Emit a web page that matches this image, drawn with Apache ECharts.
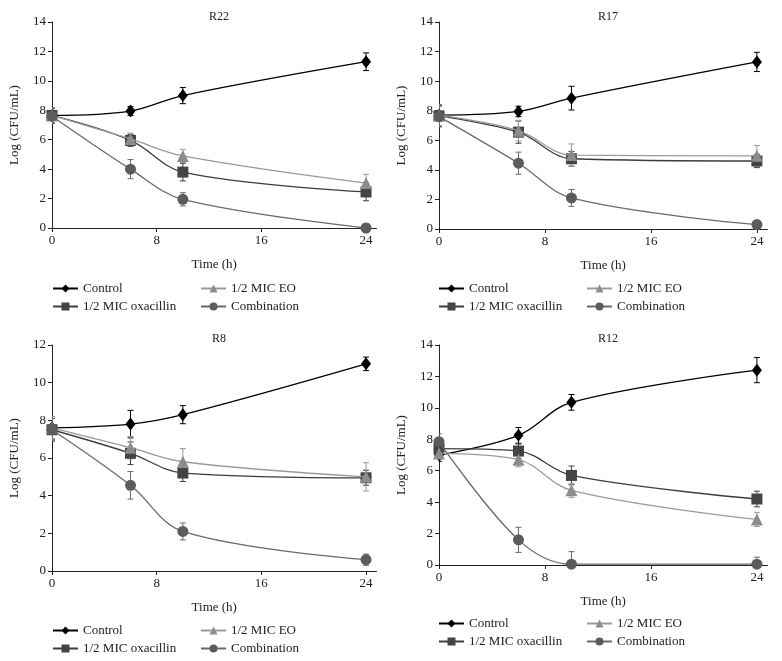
<!DOCTYPE html>
<html>
<head>
<meta charset="utf-8">
<script src="https://cdn.jsdelivr.net/npm/echarts@6/dist/echarts.min.js"></script>
<style>html,body{margin:0;padding:0;background:#fff}#c{width:782px;height:661px}</style>
</head>
<body>
<div id="c"></div>
<script>
// ---- data ----
const times = [0, 6, 10, 24];
const seriesNames = ['Control', '1/2 MIC oxacillin', '1/2 MIC EO', 'Combination'];
const panelTitles = ['R22', 'R17', 'R8', 'R12'];
const yMaxes = [14, 14, 12, 14];
const xTicks = [0, 8, 16, 24];

const r22Control = [7.65, 7.95, 9.0, 11.3];
const r22ControlErr = [0.5, 0.3, 0.55, 0.6];
const r22Oxa = [7.65, 5.95, 3.8, 2.45];
const r22OxaErr = [0.5, 0.4, 0.6, 0.6];
const r22EO = [7.65, 6.05, 4.9, 3.05];
const r22EOErr = [0.5, 0.4, 0.45, 0.6];
const r22Comb = [7.6, 4.0, 1.95, 0.0];
const r22CombErr = [0.5, 0.65, 0.45, 0.3];

const r17Control = [7.7, 7.95, 8.85, 11.3];
const r17ControlErr = [0.7, 0.35, 0.8, 0.65];
const r17Oxa = [7.65, 6.55, 4.75, 4.6];
const r17OxaErr = [0.7, 0.75, 0.5, 0.45];
const r17EO = [7.7, 6.65, 5.0, 4.95];
const r17EOErr = [0.7, 0.7, 0.75, 0.7];
const r17Comb = [7.6, 4.45, 2.1, 0.3];
const r17CombErr = [0.7, 0.75, 0.57, 0.25];

const r8Control = [7.6, 7.8, 8.3, 11.0];
const r8ControlErr = [0.6, 0.73, 0.48, 0.36];
const r8Oxa = [7.5, 6.25, 5.2, 4.95];
const r8OxaErr = [0.6, 0.6, 0.45, 0.4];
const r8EO = [7.6, 6.55, 5.8, 5.0];
const r8EOErr = [0.6, 0.6, 0.7, 0.75];
const r8Comb = [7.5, 4.55, 2.1, 0.6];
const r8CombErr = [0.6, 0.73, 0.45, 0.3];

const r12Control = [7.0, 8.25, 10.35, 12.4];
const r12ControlErr = [0.4, 0.5, 0.5, 0.8];
const r12Oxa = [7.4, 7.25, 5.7, 4.2];
const r12OxaErr = [0.4, 0.45, 0.6, 0.5];
const r12EO = [7.1, 6.7, 4.75, 2.9];
const r12EOErr = [0.4, 0.45, 0.45, 0.45];
const r12Comb = [7.85, 1.6, 0.05, 0.05];
const r12CombErr = [0.5, 0.8, 0.8, 0.45];

const panels = [
  [[r22Control, r22ControlErr], [r22Oxa, r22OxaErr], [r22EO, r22EOErr], [r22Comb, r22CombErr]],
  [[r17Control, r17ControlErr], [r17Oxa, r17OxaErr], [r17EO, r17EOErr], [r17Comb, r17CombErr]],
  [[r8Control, r8ControlErr], [r8Oxa, r8OxaErr], [r8EO, r8EOErr], [r8Comb, r8CombErr]],
  [[r12Control, r12ControlErr], [r12Oxa, r12OxaErr], [r12EO, r12EOErr], [r12Comb, r12CombErr]]
];

// ---- styles ----
const FONT = 'Liberation Serif';
const markerColors = ['#000000', '#444444', '#8c8c8c', '#5c5c5c'];
const lineColors = ['#000000', '#3c3c3c', '#9a9a9a', '#6a6a6a'];
const symbols = ['diamond', 'rect', 'triangle', 'circle'];
const symbolSizes = [[10, 13], 11, 12, 11];

const grids = [
  {left: 52, top: 22, width: 324.5, height: 206},
  {left: 439, top: 22, width: 328.5, height: 207},
  {left: 52, top: 345, width: 324.5, height: 226},
  {left: 439, top: 345, width: 328.5, height: 220}
];
const titlePos = [[214, 6], [603, 6], [214, 328], [603, 328]];
const legendTops = [282, 282, 624, 617];
const legendLefts = [[52, 200], [438, 586], [52, 200], [438, 586]];

function errRender(params, api) {
  const x = api.value(0), lo = api.value(1), hi = api.value(2);
  const t = api.coord([x, hi]);
  const b = api.coord([x, lo]);
  const c = api.visual('color');
  const cap = 3;
  const st = {stroke: c, lineWidth: 1};
  return {
    type: 'group',
    children: [
      {type: 'line', shape: {x1: t[0], y1: t[1], x2: b[0], y2: b[1]}, style: st},
      {type: 'line', shape: {x1: t[0] - cap, y1: t[1], x2: t[0] + cap, y2: t[1]}, style: st},
      {type: 'line', shape: {x1: b[0] - cap, y1: b[1], x2: b[0] + cap, y2: b[1]}, style: st}
    ]
  };
}

const option = {
  backgroundColor: '#ffffff',
  animation: false,
  title: panelTitles.map((t, i) => ({
    text: t, left: titlePos[i][0], top: titlePos[i][1], textAlign: 'center',
    textStyle: {fontFamily: FONT, fontSize: 12, fontWeight: 'normal', color: '#222'}
  })),
  grid: grids,
  xAxis: grids.map((g, i) => ({
    type: 'value', gridIndex: i, min: 0, max: 24.8,
    name: 'Time (h)', nameLocation: 'middle', nameGap: 30,
    nameTextStyle: {fontFamily: FONT, fontSize: 13, color: '#222'},
    axisLine: {onZero: false, lineStyle: {color: '#222', width: 1}},
    axisTick: {show: true, customValues: xTicks, length: 4, lineStyle: {color: '#222'}},
    axisLabel: {customValues: xTicks, fontFamily: FONT, fontSize: 13, color: '#222', margin: 6},
    splitLine: {show: false}
  })),
  yAxis: grids.map((g, i) => ({
    type: 'value', gridIndex: i, min: 0, max: yMaxes[i], interval: 2,
    name: 'Log (CFU/mL)', nameLocation: 'middle', nameGap: 31,
    nameTextStyle: {fontFamily: FONT, fontSize: 13, color: '#222'},
    axisLine: {show: true, lineStyle: {color: '#222', width: 1}},
    axisTick: {show: true, length: 4, lineStyle: {color: '#222'}},
    axisLabel: {fontFamily: FONT, fontSize: 13, color: '#222', margin: 6},
    splitLine: {show: false}
  })),
  legend: [],
  series: []
};

for (let p = 0; p < 4; p++) {
  for (let col = 0; col < 2; col++) {
    option.legend.push({
      orient: 'vertical', left: legendLefts[p][col], top: legendTops[p],
      padding: 0, itemGap: 5, itemWidth: 25, itemHeight: 10,
      data: col === 0 ? [seriesNames[0], seriesNames[1]] : [seriesNames[2], seriesNames[3]],
      textStyle: {fontFamily: FONT, fontSize: 13, color: '#222'}
    });
  }
  for (let s = 0; s < 4; s++) {
    const vals = panels[p][s][0], errs = panels[p][s][1];
    option.series.push({
      type: 'custom', name: 'err_' + p + '_' + s,
      xAxisIndex: p, yAxisIndex: p, clip: true, z: 1,
      itemStyle: {color: s === 0 ? '#000' : lineColors[s]},
      renderItem: errRender,
      encode: {x: 0, y: [1, 2]},
      data: times.map((t, k) => [t, vals[k] - errs[k], vals[k] + errs[k]])
    });
  }
  for (let s = 0; s < 4; s++) {
    const vals = panels[p][s][0];
    option.series.push({
      type: 'line', name: seriesNames[s],
      xAxisIndex: p, yAxisIndex: p, z: 3 + s,
      smooth: 0.35,
      symbol: symbols[s], symbolSize: symbolSizes[s], showAllSymbol: true,
      lineStyle: {color: lineColors[s], width: 1.3},
      itemStyle: {color: markerColors[s], borderWidth: 0},
      data: times.map((t, k) => [t, vals[k]])
    });
  }
}

const chart = echarts.init(document.getElementById('c'), null, {renderer: 'canvas'});
chart.setOption(option);
</script>
</body>
</html>
